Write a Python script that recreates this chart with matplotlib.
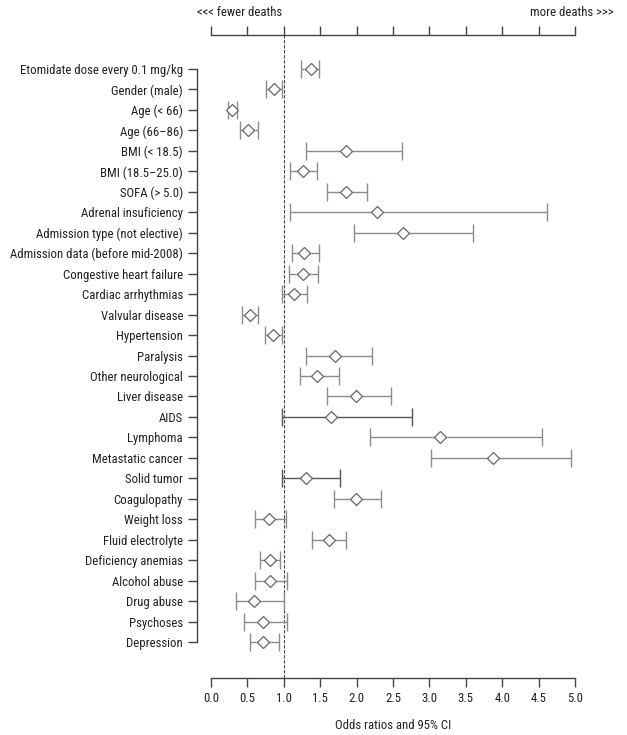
import matplotlib
matplotlib.use("Agg")
import matplotlib.pyplot as plt
from matplotlib import font_manager

# ---------------- data ----------------
labels = [
    "Etomidate dose every 0.1 mg/kg", "Gender (male)", "Age (< 66)", "Age (66\u201386)",
    "BMI (< 18.5)", "BMI (18.5\u201325.0)", "SOFA (> 5.0)", "Adrenal insuficiency",
    "Admission type (not elective)", "Admission data (before mid-2008)",
    "Congestive heart failure", "Cardiac arrhythmias", "Valvular disease",
    "Hypertension", "Paralysis", "Other neurological", "Liver disease", "AIDS",
    "Lymphoma", "Metastatic cancer", "Solid tumor", "Coagulopathy", "Weight loss",
    "Fluid electrolyte", "Deficiency anemias", "Alcohol abuse", "Drug abuse",
    "Psychoses", "Depression",
]
odds_ratio = [1.37, 0.86, 0.29, 0.51, 1.86, 1.26, 1.86, 2.28, 2.64, 1.28, 1.26, 1.14,
              0.53, 0.85, 1.71, 1.46, 1.99, 1.65, 3.15, 3.87, 1.31, 1.99, 0.80, 1.62,
              0.81, 0.81, 0.59, 0.71, 0.72]
ci_low = [1.24, 0.75, 0.23, 0.40, 1.30, 1.08, 1.60, 1.08, 1.96, 1.11, 1.07, 0.97,
          0.43, 0.74, 1.31, 1.22, 1.60, 0.97, 2.18, 3.02, 0.97, 1.69, 0.61, 1.39,
          0.67, 0.61, 0.34, 0.46, 0.54]
ci_high = [1.48, 0.98, 0.36, 0.64, 2.62, 1.45, 2.14, 4.62, 3.60, 1.48, 1.47, 1.32,
           0.65, 0.97, 2.21, 1.76, 2.47, 2.76, 4.54, 4.95, 1.77, 2.33, 1.03, 1.85,
           0.95, 1.04, 1.00, 1.05, 0.93]
x_ticks = [0.0, 0.5, 1.0, 1.5, 2.0, 2.5, 3.0, 3.5, 4.0, 4.5, 5.0]
x_ticklabels = ["0.0", "0.5", "1.0", "1.5", "2.0", "2.5", "3.0", "3.5", "4.0", "4.5", "5.0"]
x_label = "Odds ratios and 95% CI"
left_note = "<<< fewer deaths"
right_note = "more deaths >>>"

# ---------------- style ----------------
avail = {f.name for f in font_manager.fontManager.ttflist}
fam = [f for f in ["Liberation Sans Narrow", "Roboto Condensed", "Open Sans Condensed"] if f in avail]
plt.rcParams["font.family"] = fam + ["DejaVu Sans"]
FS = 9.2
dark_rows = {"AIDS", "Solid tumor"}
spine_c = "#444444"
line_c = "#8c8c8c"

W, H = 627, 735
fig = plt.figure(figsize=(W / 100, H / 100), dpi=100)
ax_l, ax_r = 211 / W, 575 / W
ax_t, ax_b = 1 - 35 / H, 1 - 678 / H
ax = fig.add_axes([ax_l, ax_b, ax_r - ax_l, ax_t - ax_b])

row0_px, row_step = 69, (642 - 69) / 28
ax.set_xlim(0, 5)
ax.set_ylim((678 - row0_px) / row_step, (35 - row0_px) / row_step)

ypos = list(range(len(labels)))
for i, lab in enumerate(labels):
    c = "#555555" if lab in dark_rows else line_c
    ax.errorbar(odds_ratio[i], i,
                xerr=[[odds_ratio[i] - ci_low[i]], [ci_high[i] - odds_ratio[i]]],
                fmt="none", ecolor=c, elinewidth=1.0, capsize=6.8, capthick=1.0, zorder=2)
    ax.plot(odds_ratio[i], i, marker="D", markersize=6.4, markerfacecolor="white",
            markeredgecolor="#666666", markeredgewidth=0.9, linestyle="none", zorder=3)

ax.axvline(1.0, color="#444444", linestyle=(0, (3, 1.5)), linewidth=0.8, zorder=1)

# spines
ax.spines["right"].set_visible(False)
for s in ["left", "top", "bottom"]:
    ax.spines[s].set_color(spine_c)
    ax.spines[s].set_linewidth(1.0)
ax.spines["left"].set_position(("outward", 14 * 0.72))
ax.spines["left"].set_bounds(0, len(labels) - 1)

ax.set_yticks(ypos)
ax.set_yticklabels(labels, fontsize=FS, color="#222222")
ax.tick_params(axis="y", length=6.5, width=1.0, color=spine_c, pad=3.5)

ax.set_xticks(x_ticks)
ax.set_xticklabels(x_ticklabels, fontsize=FS, color="#222222")
ax.tick_params(axis="x", top=True, bottom=True, labeltop=False, direction="out",
               length=6.3, width=1.0, color=spine_c, pad=4)
ax.set_xlabel(x_label, fontsize=FS, color="#222222", labelpad=10)

fig.text(282 / W, 1 - 12 / H, left_note, ha="right", va="center", fontsize=FS, color="#222222")
fig.text(614 / W, 1 - 12 / H, right_note, ha="right", va="center", fontsize=FS, color="#222222")

fig.savefig("out.png", dpi=100)
